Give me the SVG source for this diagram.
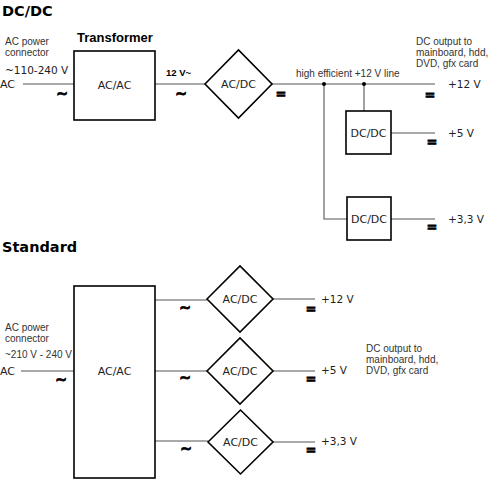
<svg xmlns="http://www.w3.org/2000/svg" width="490" height="480" viewBox="0 0 490 480">
<style>
.bg{fill:#fff}
.box{fill:#fff;stroke:#000;stroke-width:1.6}
.ln{fill:none;stroke:#555;stroke-width:1.1}
.lbl{font-family:"DejaVu Sans",sans-serif;font-size:11px;fill:#222;text-anchor:middle}
.sm{font-family:"Liberation Sans",Arial,sans-serif;font-size:10px;fill:#333}
.out{font-family:"DejaVu Sans",sans-serif;font-size:10.5px;fill:#222}
.title{font-family:"DejaVu Sans",sans-serif;font-size:14.5px;font-weight:bold;fill:#000}
.sym{font-family:"DejaVu Sans",sans-serif;font-size:13px;font-weight:bold;fill:#000;stroke:#000;stroke-width:0.7;text-anchor:middle}
.tl{font-family:"DejaVu Sans",sans-serif;font-size:14px;font-weight:bold;fill:#000;stroke:#000;stroke-width:0.9;text-anchor:middle}
.dot{fill:#000}
</style>
<rect class="bg" x="0" y="0" width="490" height="480"/>

<!-- DC/DC section -->
<text class="title" x="2" y="16">DC/DC</text>
<text x="77" y="42" font-family="Liberation Sans,Arial,sans-serif" font-size="13" font-weight="bold">Transformer</text>
<text class="sm" x="5" y="45">AC power</text>
<text class="sm" x="5" y="56">connector</text>
<text x="5" y="74" font-family="DejaVu Sans,sans-serif" font-size="10.5" fill="#222">~110-240 V</text>
<text x="0" y="88" font-family="DejaVu Sans,sans-serif" font-size="11" fill="#222">AC</text>
<text x="166" y="76" font-family="Liberation Sans,Arial,sans-serif" font-size="9.5" font-weight="bold">12 V~</text>
<text class="sm" x="296" y="77">high efficient +12 V line</text>
<text class="sm" x="416" y="45">DC output to</text>
<text class="sm" x="416" y="56">mainboard, hdd,</text>
<text class="sm" x="416" y="67">DVD, gfx card</text>
<text class="out" x="448" y="88">+12 V</text>
<text class="out" x="448" y="137">+5 V</text>
<text class="out" x="448" y="223">+3,3 V</text>

<g id="connectors-top">
<line class="ln" x1="23" y1="84" x2="74" y2="84"/>
<line class="ln" x1="155" y1="84" x2="205" y2="84"/>
<line class="ln" x1="272" y1="84" x2="435" y2="84"/>
<line class="ln" x1="364" y1="84" x2="364" y2="111"/>
<polyline class="ln" points="324,84 324,219 347,219"/>
<line class="ln" x1="391" y1="133" x2="435" y2="133"/>
<line class="ln" x1="391" y1="219" x2="435" y2="219"/>
<circle class="dot" cx="324" cy="84" r="2"/>
<circle class="dot" cx="364" cy="84" r="2"/>
</g>
<text class="tl" x="62" y="98">~</text>
<text class="tl" x="181" y="98">~</text>
<text class="sym" x="281" y="98">=</text>
<text class="sym" x="430" y="99">=</text>
<text class="sym" x="432" y="146">=</text>
<text class="sym" x="432" y="231">=</text>

<g id="transformer-top">
<rect class="box" x="74" y="51" width="81" height="69"/>
<text class="lbl" x="114.5" y="89">AC/AC</text>
</g>
<g id="acdc-top">
<polygon class="box" points="205,84 238.5,50 272,84 238.5,118"/>
<text class="lbl" x="238.5" y="88">AC/DC</text>
</g>
<g id="dcdc-5v">
<rect class="box" x="346" y="111" width="45" height="43"/>
<text class="lbl" x="368.5" y="137">DC/DC</text>
</g>
<g id="dcdc-33v">
<rect class="box" x="347" y="197" width="44" height="43"/>
<text class="lbl" x="369" y="223">DC/DC</text>
</g>

<!-- Standard section -->
<text class="title" x="2" y="252">Standard</text>
<text class="sm" x="5" y="331">AC power</text>
<text class="sm" x="5" y="342">connector</text>
<text x="5" y="358" font-family="Liberation Sans,Arial,sans-serif" font-size="10" fill="#333">~210 V - 240 V</text>
<text x="0" y="375" font-family="DejaVu Sans,sans-serif" font-size="11" fill="#222">AC</text>
<text class="sm" x="366" y="352">DC output to</text>
<text class="sm" x="366" y="363">mainboard, hdd,</text>
<text class="sm" x="366" y="374">DVD, gfx card</text>
<text class="out" x="321" y="303">+12 V</text>
<text class="out" x="321" y="374">+5 V</text>
<text class="out" x="321" y="445">+3,3 V</text>

<g id="connectors-bottom">
<line class="ln" x1="21" y1="371" x2="74" y2="371"/>
<line class="ln" x1="155" y1="300" x2="207" y2="300"/>
<line class="ln" x1="155" y1="371" x2="207" y2="371"/>
<line class="ln" x1="155" y1="441" x2="208" y2="441"/>
<line class="ln" x1="273" y1="299" x2="315" y2="299"/>
<line class="ln" x1="273" y1="371" x2="315" y2="371"/>
<line class="ln" x1="273" y1="442" x2="315" y2="442"/>
</g>
<text class="tl" x="61" y="384">~</text>
<text class="tl" x="185" y="312">~</text>
<text class="tl" x="185" y="382">~</text>
<text class="tl" x="186" y="453">~</text>
<text class="sym" x="311" y="313">=</text>
<text class="sym" x="311" y="383">=</text>
<text class="sym" x="311" y="454">=</text>

<g id="transformer-bottom">
<rect class="box" x="74" y="286" width="81" height="192"/>
<text class="lbl" x="114.5" y="375">AC/AC</text>
</g>
<g id="acdc-12v">
<polygon class="box" points="207,299 240,266 273,299 240,332"/>
<text class="lbl" x="240" y="303">AC/DC</text>
</g>
<g id="acdc-5v">
<polygon class="box" points="207,371 240,338 273,371 240,404"/>
<text class="lbl" x="240" y="375">AC/DC</text>
</g>
<g id="acdc-33v">
<polygon class="box" points="208,442 240.5,410 273,442 240.5,474"/>
<text class="lbl" x="240.5" y="446">AC/DC</text>
</g>
</svg>
